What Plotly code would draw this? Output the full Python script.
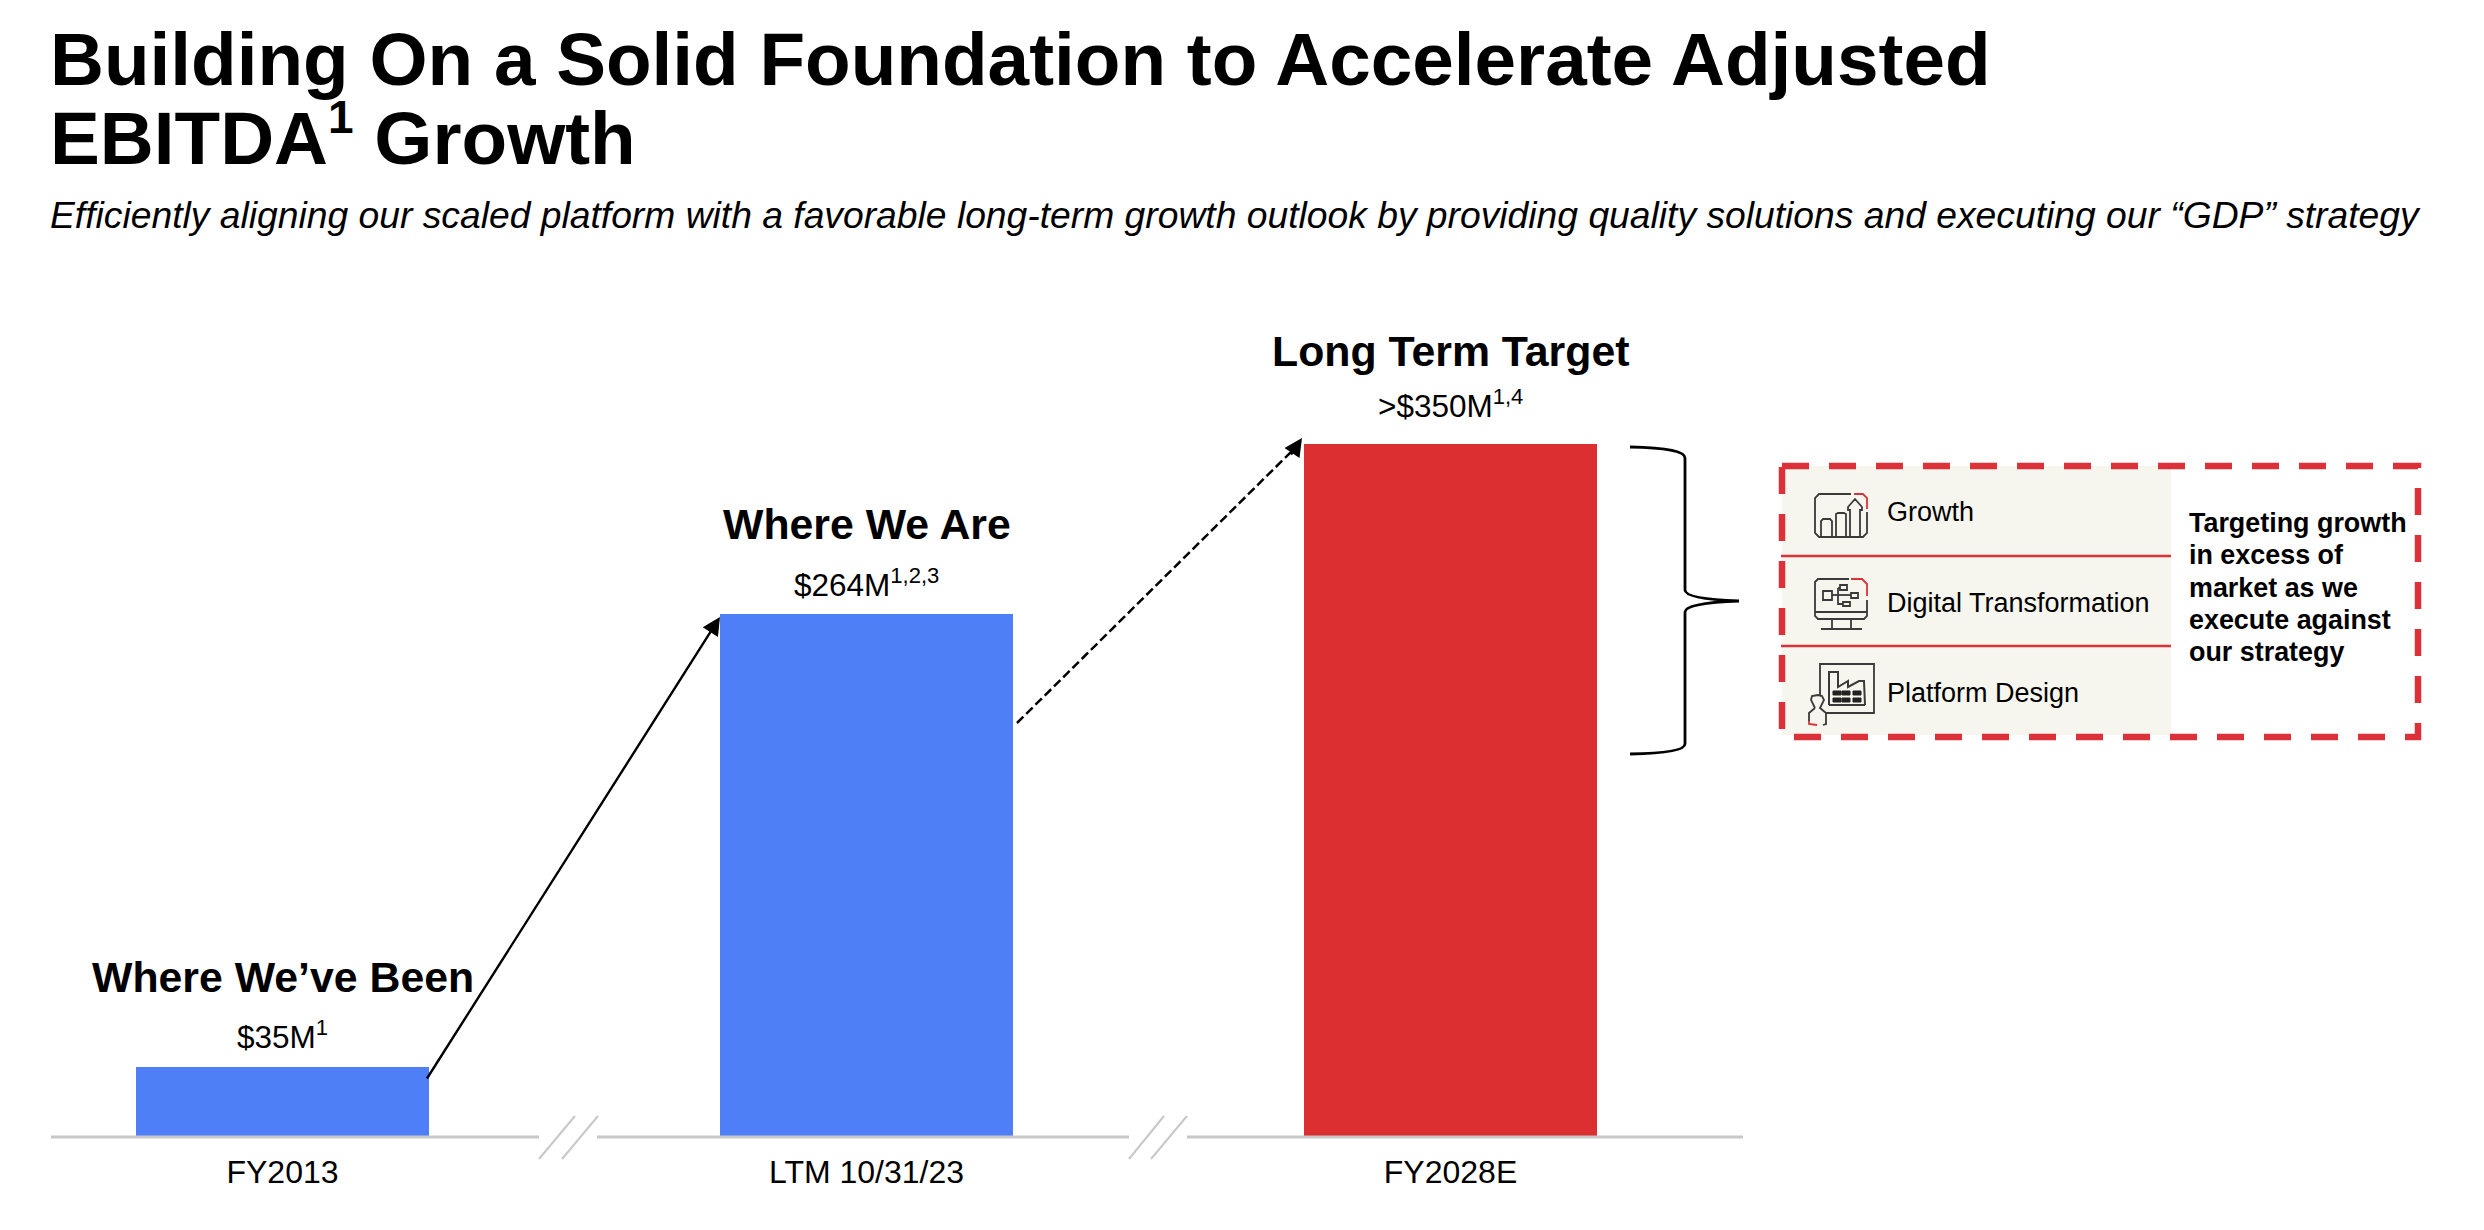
import plotly.graph_objects as go

# ---------- data ----------
categories = ["FY2013", "LTM 10/31/23", "FY2028E"]
values = [35, 264, 350]
bar_colors = ["#4F7FF6", "#4F7FF6", "#DB2F32"]
headers = ["Where We’ve Been", "Where We Are", "Long Term Target"]
value_labels = ["$35M<sup>1</sup>", "$264M<sup>1,2,3</sup>", "&gt;$350M<sup>1,4</sup>"]
title_lines = ["Building On a Solid Foundation to Accelerate Adjusted",
               "EBITDA<sup><span style=\"font-size:46px\">1</span></sup> Growth"]
subtitle = ("Efficiently aligning our scaled platform with a favorable long-term growth outlook "
            "by providing quality solutions and executing our “GDP” strategy")
pillars = ["Growth", "Digital Transformation", "Platform Design"]
callout = ["Targeting growth", "in excess of", "market as we", "execute against", "our strategy"]

# ---------- page geometry ----------
W, H = 2484, 1230
L, R, B = 51, 1743, 1136
FONT = "Liberation Sans, Arial, sans-serif"
RED = "#DC3138"
GREY = "#C8C8C8"
DARK = "#3A3A3A"
BEIGE = "#F6F5EE"
VALUE_SHIFT = [32, 31, 40]
HEADER_SHIFT = [90, 90, 93]

def px(x):
    return (x - L) / (R - L)

def py(y):
    return 1 - y / B

def path(pts, close=False):
    s = "M" + " L".join(f"{px(x):.5f},{py(y):.5f}" for x, y in pts)
    return s + (" Z" if close else "")

shapes = []
annotations = []

def line(pts, color=DARK, width=1.8, dash=None, close=False, fill=None):
    shapes.append(dict(type="path", xref="paper", yref="paper", path=path(pts, close),
                       line=dict(color=color, width=width, dash=dash or "solid"),
                       fillcolor=fill or "rgba(0,0,0,0)", layer="above"))

def text(x, y, s, size, bold=False, italic=False, anchor="left"):
    if bold:
        s = f"<b>{s}</b>"
    if italic:
        s = f"<i>{s}</i>"
    annotations.append(dict(xref="paper", yref="paper", x=px(x), y=py(y), text=s, showarrow=False,
                            xanchor=anchor, yanchor="middle", align=anchor,
                            font=dict(family=FONT, size=size, color="black")))

def arrow(x0, y0, x1, y1, dashed=False):
    # arrow tip at (x1, y1); ax/ay are pixel offsets of the tail
    if dashed:
        line([(x0, y0), (x1 - 6, y1 + 9)], color="black", width=2.5, dash="9px,4px")
        x0, y0 = x1 - 12, y1 + 18
    annotations.append(dict(xref="paper", yref="paper", x=px(x1), y=py(y1), text="",
                            showarrow=True, ax=x0 - x1, ay=y0 - y1, arrowhead=2, arrowsize=1.5,
                            arrowwidth=2.4, arrowcolor="black"))

# ---------- figure with real bars and axis ----------
fig = go.Figure(go.Bar(x=categories, y=values, marker=dict(color=bar_colors, line=dict(width=0)),
                       width=293 / 584, hoverinfo="x+y"))

# baseline segments with two axis breaks
for a, b in [(L, 539), (597, 1129), (1187, R)]:
    line([(a, 1137), (b, 1137)], color=GREY, width=3)
for (a, b) in [(539, 575), (562, 598), (1129, 1164), (1151, 1187)]:
    line([(a, 1159), (b, 1116)], color=GREY, width=2)

# headers and value labels tied to the bars
for cat, v, hd, lab, vs, hs in zip(categories, values, headers, value_labels, VALUE_SHIFT, HEADER_SHIFT):
    annotations.append(dict(x=cat, y=v, yref="y", xref="x", text=lab, showarrow=False, yshift=vs,
                            yanchor="middle", font=dict(family=FONT, size=31.5, color="black")))
    annotations.append(dict(x=cat, y=v, yref="y", xref="x", text=f"<b>{hd}</b>", showarrow=False,
                            yshift=hs, yanchor="middle", font=dict(family=FONT, size=42.8, color="black")))

# title block
text(48, 59, title_lines[0], 74.7, bold=True)
text(48, 135, title_lines[1], 74.7, bold=True)
text(48, 215, subtitle, 37.25, italic=True)

# growth arrows
arrow(426, 1080, 720, 617)
arrow(1017, 723, 1302, 438, dashed=True)

# brace
BX = 1685
shapes.append(dict(type="path", xref="paper", yref="paper", layer="above",
    line=dict(color="black", width=2.8), fillcolor="rgba(0,0,0,0)",
    path=(f"M{px(1630)},{py(447)} Q{px(1685)},{py(448)} {px(BX)},{py(458)} L{px(BX)},{py(590)} "
          f"Q{px(BX)},{py(599)} {px(1739)},{py(601)} Q{px(BX)},{py(603)} {px(BX)},{py(612)} "
          f"L{px(BX)},{py(744)} Q{px(1685)},{py(753)} {px(1630)},{py(754)}")))

# callout panel
line([(1782, 466), (2171, 466), (2171, 735), (1782, 735)], color=BEIGE, width=0, close=True, fill=BEIGE)
for y in (556, 646):
    line([(1781, y), (2171, y)], color=RED, width=2.5)
line([(1782, 466), (2418, 466), (2418, 737), (1782, 737)], color=RED, width=6.5, dash="27px,20px", close=True)

for name, y in zip(pillars, (512, 603, 693)):
    text(1885, y, name, 27)
for ln, y in zip(callout, (523, 555, 588, 620, 652)):
    text(2187, y, ln, 26.9, bold=True)

# Growth icon
line([(1867, 512), (1867, 533), (1863, 537), (1819, 537), (1815, 533), (1815, 498), (1819, 494), (1851, 494)])
line([(1854, 494), (1863, 494), (1867, 498), (1867, 509)], color=RED)
line([(1821, 537), (1821, 521), (1823, 519), (1830, 519), (1832, 521), (1832, 537)])
line([(1836, 537), (1836, 514), (1838, 513), (1844, 513), (1846, 514), (1846, 537)])
line([(1850, 537), (1850, 510), (1848, 510), (1848, 507), (1855, 499), (1862, 507), (1862, 510), (1860, 510), (1860, 537)])

# Digital transformation icon
line([(1867, 600), (1867, 616), (1864, 619), (1818, 619), (1815, 616), (1815, 582), (1818, 579), (1849, 579)])
line([(1851, 579), (1862, 579), (1867, 584), (1867, 596)], color=RED)
line([(1815, 612), (1867, 612)])
line([(1832, 619), (1832, 629)])
line([(1851, 619), (1851, 629)])
line([(1821, 629), (1862, 629)])
line([(1823, 591), (1832, 591), (1832, 600), (1823, 600)], close=True)
line([(1840, 585), (1847, 585), (1847, 590), (1840, 590)], close=True)
line([(1851, 593), (1858, 593), (1858, 598), (1851, 598)], close=True)
line([(1843, 602), (1850, 602), (1850, 606), (1843, 606)], close=True)
line([(1832, 595), (1851, 595)])
line([(1838, 588), (1840, 588)])
line([(1838, 588), (1838, 604), (1843, 604)])

# Platform design icon
line([(1820, 696), (1820, 664), (1874, 664), (1874, 713), (1826, 713)])
line([(1829, 705), (1829, 672), (1838, 672), (1838, 687), (1848, 681), (1848, 687), (1859, 681), (1864, 681), (1865, 705)], width=2)
line([(1829, 705), (1865, 705)], width=2)
for y0 in (691, 698):
    for x0 in (1833, 1842, 1853):
        line([(x0, y0), (x0 + 8, y0), (x0 + 8, y0 + 4), (x0, y0 + 4)], color="#222222", width=1, close=True, fill="#222222")
line([(1815, 708), (1811, 700), (1812, 696), (1818, 695), (1822, 696), (1824, 700), (1820, 708), (1826, 713), (1826, 724), (1823, 725)])
line([(1815, 708), (1809, 713), (1809, 721)])
line([(1809, 721), (1809, 724), (1817, 725)], color=RED)

fig.update_layout(
    width=W, height=H, autosize=False, showlegend=False, bargap=0,
    margin=dict(l=L, r=W - R, t=0, b=H - B, pad=0),
    paper_bgcolor="white", plot_bgcolor="white",
    font=dict(family=FONT, color="black"),
    xaxis=dict(type="category", categoryorder="array", categoryarray=categories,
               range=[(L - 282.5) / 584, (R - 282.5) / 584],
               showgrid=False, zeroline=False, showline=False, ticks="",
               ticklabelstandoff=14,
               tickfont=dict(family=FONT, size=32, color="black")),
    yaxis=dict(range=[0, B / 1.977], visible=False, showgrid=False, zeroline=False),
    shapes=shapes, annotations=annotations,
)
fig.write_html("out.html", config={"displayModeBar": False},
               post_script="document.body.style.margin='0';")
